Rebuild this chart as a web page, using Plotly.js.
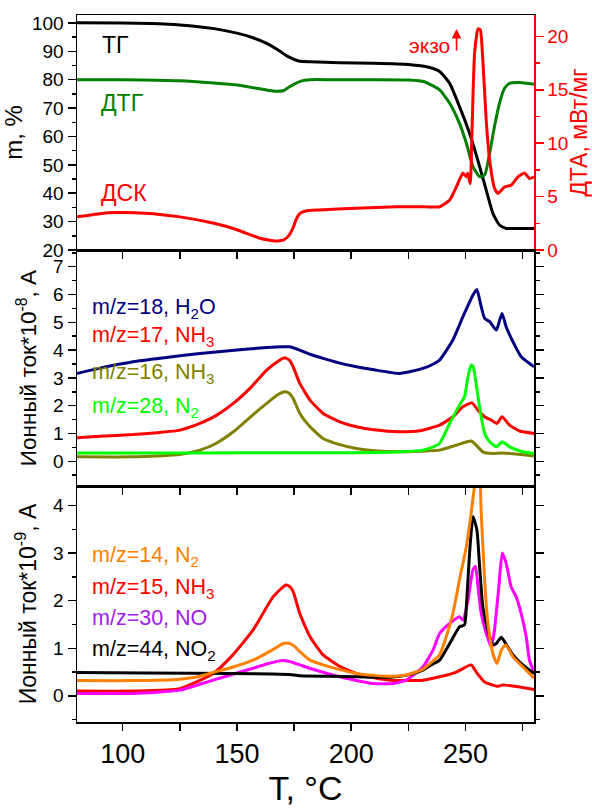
<!DOCTYPE html>
<html>
<head>
<meta charset="utf-8">
<script src="https://cdn.plot.ly/plotly-3.0.1.min.js"></script>
<style>html,body{margin:0;padding:0;background:#fff;}#chart{width:592px;height:811px;}</style>
</head>
<body>
<div id="chart"></div>
<script>
// ---- Top panel: thermal analysis ----
var tgT  = [80, 100, 112, 125, 140, 150, 157, 163, 168, 172, 177, 182, 195, 210, 225, 234, 238.7, 243.1, 247.4, 251.8, 256.2, 259.1, 262, 264.9, 267.8, 273, 280];
var tgV  = [100.1, 100.0, 99.8, 99.3, 98.0, 96.4, 94.8, 92.8, 90.5, 88.3, 86.6, 86.3, 86.0, 85.8, 85.4, 84.4, 82.9, 78.7, 70.5, 61.1, 49.4, 41.1, 32.9, 28.8, 27.6, 27.6, 27.6];

var dtgT = [80, 100, 125, 140, 150, 158.5, 164, 167.5, 170.2, 173, 175.5, 178, 182, 192, 210, 225, 232, 238.7, 243.1, 247.4, 250.4, 253.3, 256.2, 258.4, 260.6, 262.7, 264.9, 267.1, 269.3, 273.7, 280];
var dtgV = [80, 80, 79.6, 78.8, 78.1, 77.0, 76.2, 75.9, 76.1, 77.5, 78.6, 79.5, 80, 80, 80, 79.9, 79.3, 76.4, 71.7, 64.6, 57.6, 49.4, 45.8, 46.4, 54.1, 63.5, 71.7, 77.0, 78.7, 79.0, 78.4];

var dscT = [80, 90, 97, 110, 125, 140, 150, 160, 165, 168, 170.5, 172.5, 174.6, 176, 177.5, 180, 186, 202, 220, 230, 238.7, 243.1, 246, 248.9, 250.4, 251, 252.1, 252.8, 254, 255.5, 256.5, 257.6, 259.1, 260.6, 262.7, 264.2, 267.1, 270, 273, 275.9, 278, 280];
var dscV = [3.1, 3.4, 3.5, 3.45, 3.1, 2.5, 1.9, 1.1, 0.9, 0.85, 0.95, 1.3, 2.1, 2.9, 3.4, 3.65, 3.75, 3.9, 4.05, 4.05, 4.05, 4.67, 5.9, 7.2, 6.85, 7.2, 6.2, 10.6, 18.4, 20.7, 20.6, 17.8, 12.1, 8.4, 5.8, 5.3, 5.9, 6.07, 6.85, 7.2, 6.7, 6.85];

// ---- Middle panel: ion current x1e-8 A ----
var h2oT = [80, 90, 104.6, 120, 133.8, 150, 163, 170.2, 173, 177.5, 182, 187.7, 195, 202.3, 210, 221.2, 231.4, 236, 238.7, 244.5, 248.9, 253.3, 255, 256.9, 258.4, 260.6, 263.5, 266, 267.8, 270.8, 274.4, 280];
var h2oV = [3.16, 3.35, 3.58, 3.74, 3.88, 4.0, 4.09, 4.12, 4.12, 4.0, 3.85, 3.7, 3.53, 3.4, 3.29, 3.16, 3.34, 3.5, 3.64, 4.36, 5.2, 5.98, 6.18, 5.56, 5.14, 5.02, 4.72, 5.32, 4.84, 4.3, 3.76, 3.4];

var nh17T = [80, 90, 104.6, 115, 125, 133.8, 141, 148.4, 156, 163, 168, 170.9, 173, 174.6, 177.5, 182, 187.7, 195, 202.3, 210, 221.2, 230, 238.7, 244.5, 248.9, 252.8, 255.5, 258.4, 261.3, 263.8, 266, 269.3, 273.7, 280];
var nh17V = [0.85, 0.9, 0.96, 1.03, 1.12, 1.36, 1.65, 2.08, 2.65, 3.28, 3.6, 3.72, 3.64, 3.4, 2.8, 2.2, 1.72, 1.42, 1.24, 1.13, 1.06, 1.1, 1.3, 1.6, 1.96, 2.1, 1.84, 1.6, 1.48, 1.36, 1.6, 1.3, 1.09, 1.0];

var nh16T = [80, 104.6, 115, 125, 133.8, 141, 148.4, 156, 163, 168, 170.9, 173, 174.6, 177.5, 182, 187.7, 195, 202.3, 210, 221.2, 230, 238.7, 246, 252.5, 254.7, 257.6, 262, 266.4, 280];
var nh16V = [0.16, 0.16, 0.19, 0.24, 0.4, 0.65, 1.06, 1.6, 2.08, 2.4, 2.5, 2.44, 2.26, 1.72, 1.24, 0.82, 0.6, 0.46, 0.38, 0.34, 0.36, 0.4, 0.58, 0.73, 0.58, 0.34, 0.28, 0.3, 0.19];

var n28T = [80, 130, 173, 202, 220, 231.4, 236, 238.7, 243.1, 247.4, 249.6, 251.1, 252.5, 253.3, 254, 255.5, 256.9, 258.4, 260.6, 263.5, 266.1, 269.3, 275.1, 280];
var n28V = [0.3, 0.3, 0.31, 0.31, 0.33, 0.4, 0.52, 0.64, 1.36, 2.02, 2.32, 3.04, 3.46, 3.42, 3.16, 2.32, 1.6, 1.0, 0.7, 0.52, 0.7, 0.52, 0.34, 0.28];

// ---- Bottom panel: ion current x1e-9 A ----
var n14T = [80, 104.6, 125, 133, 139.6, 148, 157, 165, 170.2, 173, 175, 177.5, 182, 187.7, 195, 202.3, 210, 217, 225, 231.4, 235, 238.7, 241.6, 244.5, 247.4, 250.4, 252.5, 253.7, 255, 256.2, 256.9, 258.4, 259.8, 262, 263.8, 265.7, 267.6, 270.8, 275.1, 280];
var n14V = [0.32, 0.32, 0.35, 0.4, 0.49, 0.6, 0.75, 0.95, 1.1, 1.1, 1.05, 0.93, 0.75, 0.65, 0.55, 0.47, 0.43, 0.41, 0.45, 0.56, 0.7, 0.86, 1.24, 1.73, 2.44, 3.14, 3.84, 4.3, 4.7, 4.6, 3.84, 2.44, 1.52, 0.89, 0.68, 0.96, 1.07, 0.82, 0.61, 0.37];

var nh15T = [80, 104.6, 125, 139.6, 148, 157, 165.8, 171.4, 173, 174.6, 177.5, 182, 187.7, 195, 202.3, 210, 217, 231.4, 238.7, 246, 252.5, 254.7, 258.4, 264.2, 266.4, 280];
var nh15V = [0.1, 0.1, 0.15, 0.47, 0.85, 1.38, 2.08, 2.33, 2.3, 2.19, 1.73, 1.24, 0.86, 0.62, 0.47, 0.38, 0.33, 0.33, 0.4, 0.5, 0.65, 0.5, 0.29, 0.2, 0.23, 0.13];

var noT = [80, 104.6, 125, 139.6, 157, 163, 169.5, 173, 177.5, 181.8, 194.9, 209.5, 218.3, 224.1, 231.4, 235.8, 238.7, 243.1, 247.4, 248.9, 251.1, 253.3, 254.4, 255.5, 256.9, 259.1, 261.3, 262.7, 264.6, 266.1, 267.8, 270, 272.2, 274.4, 276.6, 278, 280];
var noV = [0.05, 0.05, 0.12, 0.33, 0.58, 0.67, 0.74, 0.72, 0.65, 0.58, 0.4, 0.26, 0.26, 0.33, 0.61, 0.96, 1.31, 1.52, 1.66, 1.59, 2.01, 2.65, 2.72, 2.29, 1.73, 1.31, 1.03, 1.38, 2.29, 3.0, 2.79, 2.29, 2.08, 1.73, 1.24, 0.75, 0.5];

var no2T = [80, 110, 148.4, 165, 173, 177.5, 190, 202.3, 217, 225, 231.4, 235, 238.7, 243.1, 247.4, 249.6, 250.4, 251.8, 253.3, 255, 256.2, 257.6, 259.8, 262, 263.5, 265.7, 267.6, 270.8, 275.1, 280];
var no2V = [0.49, 0.48, 0.47, 0.46, 0.45, 0.42, 0.41, 0.4, 0.39, 0.44, 0.54, 0.65, 0.75, 1.1, 1.45, 1.49, 1.87, 3.0, 3.77, 3.49, 2.72, 1.87, 1.38, 1.07, 1.1, 1.23, 1.1, 0.86, 0.65, 0.47];

var FONT = 'Liberation Sans, Arial, sans-serif';
var LW = 3;

function tr(x, y, color, xa, ya, name) {
  return {x: x, y: y, type: 'scatter', mode: 'lines', name: name,
          xaxis: xa, yaxis: ya, line: {color: color, width: LW, shape: 'spline', smoothing: 0.5},
          showlegend: false, hoverinfo: 'skip'};
}

var data = [
  tr(tgT, tgV, '#000000', 'x2', 'y', 'ТГ'),
  tr(dtgT, dtgV, '#008000', 'x2', 'y', 'ДТГ'),
  tr(dscT, dscV, '#ff0000', 'x2', 'y2', 'ДСК'),
  tr(h2oT, h2oV, '#000080', 'x3', 'y3', 'm/z=18'),
  tr(nh17T, nh17V, '#ff0000', 'x3', 'y3', 'm/z=17'),
  tr(nh16T, nh16V, '#808000', 'x3', 'y3', 'm/z=16'),
  tr(n28T, n28V, '#00ff00', 'x3', 'y3', 'm/z=28'),
  tr(nh15T, nh15V, '#ff0000', 'x', 'y4', 'm/z=15'),
  tr(noT, noV, '#ff00ff', 'x', 'y4', 'm/z=30'),
  tr(no2T, no2V, '#000000', 'x', 'y4', 'm/z=44'),
  tr(n14T, n14V, '#ff8000', 'x', 'y4', 'm/z=14')
];

var xBase = {
  range: [80, 280], tickmode: 'linear', tick0: 0, dtick: 50,
  ticks: 'outside', ticklen: 7, tickwidth: 1.5, tickcolor: '#000',
  minor: {dtick: 25, tick0: 0, ticks: 'outside', ticklen: 7, tickwidth: 1.5, tickcolor: '#000', showgrid: false},
  showline: true, linecolor: '#000', linewidth: 1.5, mirror: true,
  showgrid: false, zeroline: false
};
function clone(o, extra) { var r = JSON.parse(JSON.stringify(o)); for (var k in extra) r[k] = extra[k]; return r; }

var yBase = {
  ticks: 'outside', ticklen: 8, tickwidth: 1.5, tickcolor: '#000',
  showline: true, linecolor: '#000', linewidth: 1.5,
  showgrid: false, zeroline: false,
  tickfont: {family: FONT, size: 19, color: '#000'}
};

var layout = {
  width: 592, height: 811,
  margin: {l: 77, r: 58, t: 15, b: 89},
  paper_bgcolor: '#fff', plot_bgcolor: 'rgba(0,0,0,0)',
  font: {family: FONT, color: '#000'},
  showlegend: false,
  xaxis: clone(xBase, {anchor: 'y4', tickfont: {family: FONT, size: 27, color: '#000'},
    title: {text: 'T, °C', font: {family: FONT, size: 34, color: '#000'}, standoff: 6}}),
  xaxis2: clone(xBase, {anchor: 'y', matches: 'x', showticklabels: false}),
  xaxis3: clone(xBase, {anchor: 'y3', matches: 'x', showticklabels: false}),
  yaxis: clone(yBase, {domain: [0.6676, 1], range: [20, 102.8], tickmode: 'linear', tick0: 0, dtick: 10,
    minor: {dtick: 5, tick0: 0, ticks: 'outside', ticklen: 4, tickwidth: 1.5, tickcolor: '#000', showgrid: false},
    mirror: false,
    title: {text: 'm, %', font: {family: FONT, size: 24, color: '#000'}, standoff: 2}}),
  yaxis2: clone(yBase, {overlaying: 'y', side: 'right', anchor: 'x2', range: [0, 22], tickmode: 'linear', tick0: 0, dtick: 5,
    linecolor: '#ff0000', tickcolor: '#ff0000',
    tickfont: {family: FONT, size: 19, color: '#ff0000'},
    minor: {dtick: 2.5, tick0: 0, ticks: 'outside', ticklen: 4, tickwidth: 1.5, tickcolor: '#ff0000', showgrid: false},
    title: {text: 'ДТА, мВт/мг', font: {family: FONT, size: 23, color: '#ff0000'}, standoff: 5}}),
  yaxis3: clone(yBase, {domain: [0.3338, 0.6676], anchor: 'x3', range: [-0.89, 7.6], tickmode: 'linear', tick0: 0, dtick: 1,
    minor: {dtick: 0.5, tick0: 0, ticks: 'outside', ticklen: 4, tickwidth: 1.5, tickcolor: '#000', showgrid: false},
    mirror: 'ticks',
    title: {text: 'Ионный ток*10<sup>-8</sup>, A', font: {family: FONT, size: 22.5, color: '#000'}, standoff: 10}}),
  yaxis4: clone(yBase, {domain: [0, 0.3338], anchor: 'x', range: [-0.55, 4.41], tickmode: 'linear', tick0: 0, dtick: 1,
    minor: {dtick: 0.5, tick0: 0, ticks: 'outside', ticklen: 4, tickwidth: 1.5, tickcolor: '#000', showgrid: false},
    mirror: 'ticks',
    title: {text: 'Ионный ток*10<sup>-9</sup>, A', font: {family: FONT, size: 23, color: '#000'}, standoff: 10}}),
  annotations: []
};

function ann(text, x, y, xref, yref, color, size) {
  return {text: text, x: x, y: y, xref: xref, yref: yref, xanchor: 'left', yanchor: 'middle',
          showarrow: false, font: {family: FONT, size: size, color: color}};
}
layout.annotations.push(
  ann('ТГ', 90, 92.2, 'x2', 'y', '#000000', 23),
  ann('ДТГ', 89.5, 71.8, 'x2', 'y', '#008000', 23),
  ann('ДСК', 89.5, 40.1, 'x2', 'y', '#ff0000', 23),
  ann('экзо', 224.5, 19.1, 'x2', 'y2', '#ff0000', 21),
  {text: '', x: 246.1, y: 20.7, xref: 'x2', yref: 'y2', showarrow: true, ax: 0, ay: 23,
   arrowhead: 2, arrowsize: 1.2, arrowwidth: 1.6, arrowcolor: '#ff0000'},
  ann('m/z=18, H<sub>2</sub>O', 85.5, 5.51, 'x3', 'y3', '#000080', 21.5),
  ann('m/z=17, NH<sub>3</sub>', 85.5, 4.5, 'x3', 'y3', '#ff0000', 21.5),
  ann('m/z=16, NH<sub>3</sub>', 85.5, 3.17, 'x3', 'y3', '#808000', 21.5),
  ann('m/z=28, N<sub>2</sub>', 85.5, 1.95, 'x3', 'y3', '#00ff00', 21.5),
  ann('m/z=14, N<sub>2</sub>', 85.5, 2.92, 'x', 'y4', '#ff8000', 21.5),
  ann('m/z=15, NH<sub>3</sub>', 85.5, 2.25, 'x', 'y4', '#ff0000', 21.5),
  ann('m/z=30, NO', 85.5, 1.64, 'x', 'y4', '#a020f0', 21.5),
  ann('m/z=44, NO<sub>2</sub>', 85.5, 0.96, 'x', 'y4', '#000000', 21.5)
);

Plotly.newPlot('chart', data, layout, {staticPlot: true, displayModeBar: false});
</script>
</body>
</html>
